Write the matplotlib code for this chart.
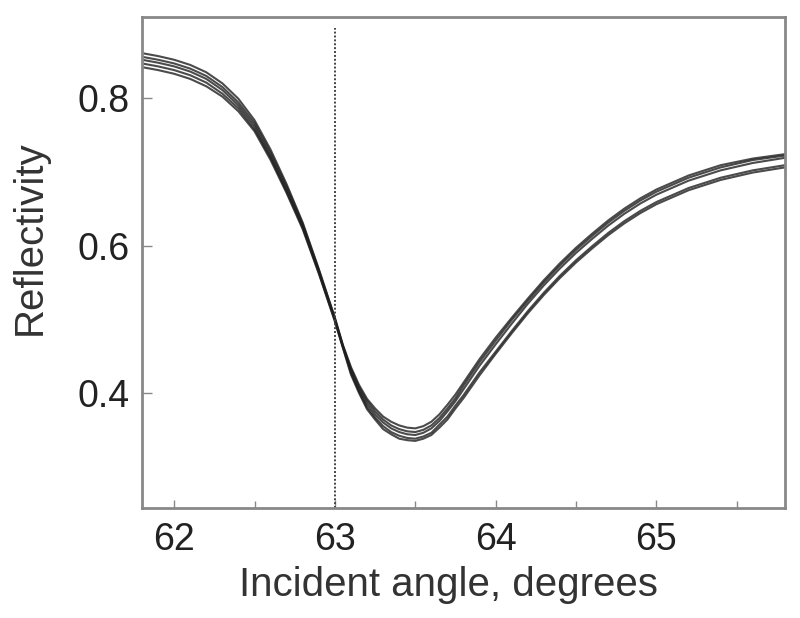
import matplotlib
matplotlib.use('Agg')
from matplotlib import pyplot as plt
from matplotlib import ticker

matplotlib.rcParams['font.family'] = ['Liberation Sans', 'DejaVu Sans']

# incident angle, degrees
angle = [61.80, 61.90, 62.00, 62.10, 62.20, 62.30, 62.40, 62.50, 62.60, 62.70,
         62.80, 62.90, 63.00, 63.05, 63.10, 63.15, 63.20, 63.25, 63.30, 63.35,
         63.40, 63.45, 63.50, 63.55, 63.60, 63.65, 63.70, 63.75,
         63.80, 63.90, 64.00, 64.10, 64.20, 64.30, 64.40, 64.50, 64.60, 64.70,
         64.80, 64.90, 65.00, 65.20, 65.40, 65.60, 65.80]

# reflectivity curves (repeated scans)
refl_a = [0.861, 0.857, 0.852, 0.845, 0.835, 0.820, 0.799, 0.770, 0.730, 0.683,
          0.631, 0.568, 0.502, 0.465, 0.435, 0.411, 0.392, 0.379, 0.368, 0.361,
          0.356, 0.353, 0.352, 0.355, 0.361, 0.371, 0.384, 0.398,
          0.414, 0.446, 0.475, 0.502, 0.528, 0.553, 0.576, 0.597, 0.616, 0.634,
          0.650, 0.664, 0.676, 0.695, 0.709, 0.718, 0.724]
refl_b = [0.856, 0.852, 0.847, 0.840, 0.830, 0.815, 0.794, 0.766, 0.726, 0.680,
          0.629, 0.567, 0.501, 0.464, 0.433, 0.408, 0.389, 0.375, 0.364, 0.356,
          0.351, 0.348, 0.347, 0.350, 0.356, 0.366, 0.379, 0.393,
          0.410, 0.442, 0.471, 0.499, 0.525, 0.550, 0.573, 0.594, 0.613, 0.631,
          0.647, 0.661, 0.673, 0.692, 0.706, 0.716, 0.722]
refl_c = [0.852, 0.848, 0.843, 0.836, 0.826, 0.811, 0.790, 0.762, 0.722, 0.676,
          0.626, 0.565, 0.500, 0.463, 0.430, 0.405, 0.385, 0.371, 0.360, 0.352,
          0.347, 0.344, 0.343, 0.346, 0.352, 0.362, 0.375, 0.389,
          0.405, 0.437, 0.466, 0.494, 0.521, 0.546, 0.569, 0.590, 0.609, 0.627,
          0.643, 0.657, 0.669, 0.688, 0.702, 0.712, 0.719]
refl_d = [0.847, 0.843, 0.838, 0.831, 0.821, 0.806, 0.786, 0.758, 0.719, 0.673,
          0.624, 0.563, 0.498, 0.462, 0.427, 0.402, 0.381, 0.367, 0.355, 0.347,
          0.342, 0.339, 0.338, 0.341, 0.346, 0.357, 0.368, 0.383,
          0.397, 0.428, 0.456, 0.484, 0.511, 0.536, 0.559, 0.580, 0.599, 0.617,
          0.633, 0.647, 0.659, 0.678, 0.692, 0.702, 0.709]
refl_e = [0.842, 0.838, 0.833, 0.826, 0.816, 0.802, 0.782, 0.755, 0.716, 0.671,
          0.622, 0.562, 0.497, 0.461, 0.425, 0.400, 0.378, 0.364, 0.351, 0.344,
          0.338, 0.336, 0.335, 0.338, 0.343, 0.353, 0.364, 0.379,
          0.393, 0.424, 0.453, 0.481, 0.508, 0.533, 0.556, 0.577, 0.596, 0.614,
          0.630, 0.644, 0.656, 0.675, 0.689, 0.699, 0.706]

marker_angle = 63.0
marker_top = 0.895

fig = plt.figure(figsize=(8, 6.18), dpi=100)
ax = fig.add_axes([0.1775, 0.178, 0.80375, 0.7945])

for r in [refl_a, refl_b, refl_c, refl_d, refl_e]:
    ax.plot(angle, r, color='#1e1e1e', linewidth=1.5, alpha=0.8)

ax.vlines(marker_angle, 0.244, marker_top, colors='#444444',
          linestyles=(0, (1, 1)), linewidth=1.4)

ax.set_xlim(61.80, 65.80)
ax.set_ylim(0.244, 0.910)
ax.xaxis.set_major_locator(ticker.MultipleLocator(1))
ax.xaxis.set_minor_locator(ticker.MultipleLocator(0.5))
ax.yaxis.set_major_locator(ticker.FixedLocator([0.4, 0.6, 0.8]))

for s in ax.spines.values():
    s.set_color('#888888')
    s.set_linewidth(2)

ax.tick_params(axis='both', which='both', direction='in', color='#888888',
               labelcolor='#222222', labelsize=27)
ax.tick_params(axis='x', which='major', length=6, width=1, pad=10)
ax.tick_params(axis='x', which='minor', length=5, width=1)
ax.tick_params(axis='y', which='major', length=7, width=1, pad=9)
ax.yaxis.set_major_formatter(ticker.FormatStrFormatter('%.1f'))

ax.set_xlabel('Incident angle, degrees', fontsize=29, color='#333333')
ax.set_ylabel('Reflectivity', fontsize=29, color='#333333')
ax.xaxis.set_label_coords(0.476, -0.118)
ax.yaxis.set_label_coords(-0.145, 0.55)

plt.savefig('out.png', dpi=100)
